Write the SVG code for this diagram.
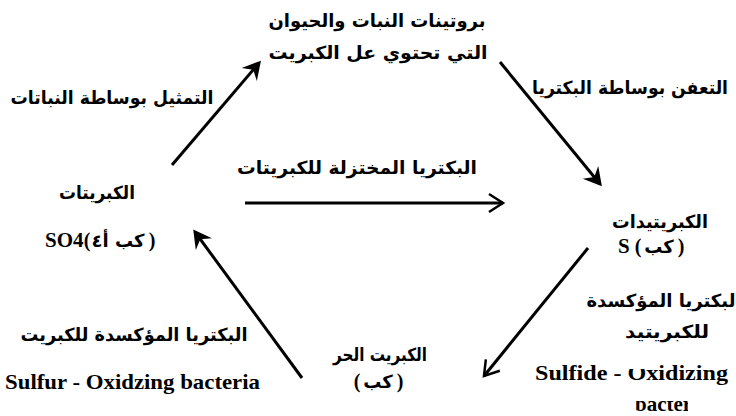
<svg xmlns="http://www.w3.org/2000/svg" width="736" height="416" viewBox="0 0 736 416">
<style>
.ar{font-family:'DejaVu Sans',sans-serif;font-weight:bold;font-size:18px;fill:#000;direction:rtl;text-anchor:middle}
.en{font-family:'Liberation Serif',serif;font-weight:bold;font-size:21px;fill:#000}
.pa{font-family:'Liberation Serif',serif;font-weight:bold;font-size:20px;fill:#000;text-anchor:middle}
.ln{stroke:#000;stroke-width:3;fill:none}
</style>
<defs>
<marker id="barb" markerUnits="userSpaceOnUse" markerWidth="30" markerHeight="30" viewBox="-20 -15 30 30" refX="0" refY="0" orient="auto" overflow="visible">
<path d="M3,0 L-15,-10 L-9,0 L-15,10 Z" fill="#000"/>
</marker>
<marker id="chev" markerUnits="userSpaceOnUse" markerWidth="30" markerHeight="30" viewBox="-20 -15 30 30" refX="0" refY="0" orient="auto" overflow="visible">
<path d="M-14,-9 L0,0 L-14,9" fill="none" stroke="#000" stroke-width="2.5"/>
</marker>
<clipPath id="clipOx">
<rect x="520" y="345" width="106" height="45"/>
<rect x="626" y="369" width="22" height="21"/>
<rect x="648" y="345" width="88" height="45"/>
</clipPath>
<clipPath id="clipBa">
<rect x="630" y="401" width="58" height="15"/>
</clipPath>
</defs>
<rect width="736" height="416" fill="#fff"/>

<g id="connectors">
<path class="ln" d="M172,165 L259,63" marker-end="url(#barb)"/>
<path class="ln" d="M500,62 L600,184" marker-end="url(#barb)"/>
<path class="ln" d="M245,203 L503,203" marker-end="url(#chev)"/>
<path class="ln" d="M588,248 L484,376" marker-end="url(#chev)"/>
<path class="ln" d="M302,378 L195,232" marker-end="url(#barb)"/>
</g>

<g id="node-proteins">
<text class="ar" x="377" y="27" textLength="217" lengthAdjust="spacingAndGlyphs">بروتينات النبات والحيوان</text>
<text class="ar" x="378" y="59" textLength="219" lengthAdjust="spacingAndGlyphs">التي تحتوي عل الكبريت</text>
</g>

<g id="node-sulfates">
<text class="ar" x="97" y="199" textLength="76" lengthAdjust="spacingAndGlyphs">الكبريتات</text>
<text class="en" x="45" y="247" font-size="19">SO4</text>
<text class="pa" x="87" y="247">(</text>
<text class="ar" x="118" y="247">كب أ٤</text>
<text class="pa" x="152" y="247">)</text>
</g>

<g id="node-sulfides">
<text class="ar" x="660" y="228" textLength="96" lengthAdjust="spacingAndGlyphs">الكبريتيدات</text>
<text class="en" x="618" y="253">S</text>
<text class="pa" x="638" y="253">(</text>
<text class="ar" x="659" y="253">كب</text>
<text class="pa" x="681" y="253">)</text>
</g>

<g id="node-free-sulfur">
<text class="ar" x="380" y="361" textLength="94" lengthAdjust="spacingAndGlyphs">الكبريت الحر</text>
<text class="pa" x="357" y="388">(</text>
<text class="ar" x="378" y="388">كب</text>
<text class="pa" x="400" y="388">)</text>
</g>

<g id="label-assimilation">
<text class="ar" x="112" y="104" textLength="203" lengthAdjust="spacingAndGlyphs">التمثيل بوساطة النباتات</text>
</g>

<g id="label-decay">
<text class="ar" x="630" y="94" font-size="16" textLength="196" lengthAdjust="spacingAndGlyphs">التعفن بوساطة البكتريا</text>
</g>

<g id="label-reducing">
<text class="ar" x="357" y="174" textLength="240" lengthAdjust="spacingAndGlyphs">البكتريا المختزلة للكبريتات</text>
</g>

<g id="label-sulfide-oxidizing">
<text class="ar" x="664" y="307" font-size="13">البكتريا المؤكسدة</text>
<text class="ar" x="667" y="338" textLength="84" lengthAdjust="spacingAndGlyphs">للكبريتيد</text>
<g clip-path="url(#clipOx)"><text class="en" x="535" y="380" textLength="193" lengthAdjust="spacingAndGlyphs">Sulfide - Oxidizing</text></g>
<g clip-path="url(#clipBa)"><text class="en" x="635" y="411">bacteria</text></g>
</g>

<g id="label-sulfur-oxidizing">
<text class="ar" x="134" y="341" textLength="227" lengthAdjust="spacingAndGlyphs">البكتريا المؤكسدة للكبريت</text>
<text class="en" x="5" y="389" textLength="255" lengthAdjust="spacingAndGlyphs">Sulfur - Oxidzing bacteria</text>
</g>
</svg>
